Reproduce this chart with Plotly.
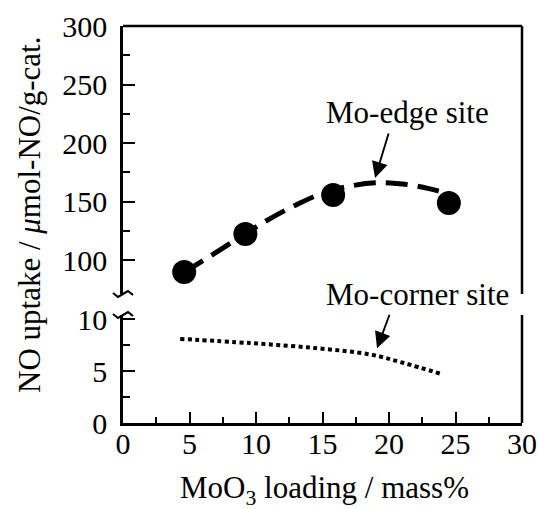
import plotly.graph_objects as go

# ---- data -------------------------------------------------------------
loading = [4.6, 9.2, 15.8, 24.5]            # MoO3 loading / mass%
edge_uptake = [89.7, 122.2, 155.6, 148.7]   # measured NO uptake, umol/g-cat

# smooth trend through the Mo-edge points (dashed)
edge_trend_x = [4.6, 7.0, 9.2, 11.0, 13.0, 15.0, 17.0, 19.0, 21.0, 23.0, 24.2]
edge_trend_y = [89.5, 106.5, 122.5, 135, 147, 157, 163, 166, 165, 161, 157.5]

# Mo-corner site trend (dotted)
corner_x = [4.3, 9.55, 14.6, 18.6, 21.05, 24.0]
corner_y = [8.1, 7.7, 7.2, 6.6, 5.8, 4.7]

x_ticks = [0, 5, 10, 15, 20, 25, 30]
x_minor = [2.5, 7.5, 12.5, 17.5, 22.5, 27.5]
upper_ticks = [100, 150, 200, 250, 300]
upper_minor = [125, 175, 225, 275]
lower_ticks = [0, 5, 10]
lower_minor = [2.5, 7.5]

# ---- geometry (pixels of the 538x509 page) ----------------------------
W, H = 538, 509
PL, PR, PT, PB = 123, 522, 26, 423
UP_BOT, LO_TOP = 294, 315          # break in the y axis


def fx(xp):
    return (xp - PL) / (PR - PL)


def fy(yp):
    return (PB - yp) / (PB - PT)


up_scale = (260 - PT) / 200.0       # px per unit on the upper axis
lo_scale = 10.38                     # px per unit on the lower axis
upper_range = [100 - (UP_BOT - 260) / up_scale, 300]
lower_range = [0, (PB - LO_TOP) / lo_scale]

FONT = "Liberation Serif"
LW = 2.5

fig = go.Figure()

fig.add_trace(go.Scatter(
    x=edge_trend_x, y=edge_trend_y, yaxis="y2", mode="lines",
    line=dict(color="black", width=5, dash="22px,10px", shape="spline"),
    hoverinfo="skip", showlegend=False))

fig.add_trace(go.Scatter(
    x=loading, y=edge_uptake, yaxis="y2", mode="markers",
    marker=dict(color="black", size=24, line=dict(width=0)),
    showlegend=False))

fig.add_trace(go.Scatter(
    x=corner_x, y=corner_y, yaxis="y", mode="lines",
    line=dict(color="black", width=4, dash="4px,3.4px", shape="spline"),
    hoverinfo="skip", showlegend=False))

tickfont = dict(family=FONT, size=30, color="black")

fig.update_layout(
    width=W, height=H,
    margin=dict(l=PL, r=W - PR, t=PT, b=H - PB, autoexpand=False),
    paper_bgcolor="white", plot_bgcolor="white",
    xaxis=dict(
        range=[0, 30], tickvals=x_ticks, ticks="inside", ticklen=11,
        tickwidth=2, tickcolor="black", showline=True, linewidth=LW,
        linecolor="black", showgrid=False, zeroline=False, tickfont=tickfont,
        ticklabelstandoff=-8,
        minor=dict(tickvals=x_minor, ticks="inside",
                   ticklen=6, tickwidth=1.5, tickcolor="black", showgrid=False),
        anchor="y", fixedrange=True),
    yaxis=dict(
        domain=[0, fy(LO_TOP)], range=lower_range, tickvals=lower_ticks,
        ticks="inside", ticklen=12, tickwidth=2, tickcolor="black",
        showline=True, linewidth=LW, linecolor="black", showgrid=False,
        zeroline=False, tickfont=tickfont, ticklabelstandoff=7,
        minor=dict(tickvals=lower_minor, ticks="inside", ticklen=7,
                   tickwidth=1.5, tickcolor="black", showgrid=False),
        anchor="x", fixedrange=True),
    yaxis2=dict(
        domain=[fy(UP_BOT), 1], range=upper_range, tickvals=upper_ticks,
        ticks="inside", ticklen=12, tickwidth=2, tickcolor="black",
        showline=True, linewidth=LW, linecolor="black", showgrid=False,
        zeroline=False, tickfont=tickfont, ticklabelstandoff=7,
        minor=dict(tickvals=upper_minor, ticks="inside", ticklen=7,
                   tickwidth=1.5, tickcolor="black", showgrid=False),
        anchor="x", fixedrange=True),
)

# frame: top edge and broken right edge
line = dict(color="black", width=LW)
fig.add_shape(type="line", xref="paper", yref="paper", x0=0, x1=1, y0=1, y1=1, line=line)
fig.add_shape(type="line", xref="paper", yref="paper", x0=1, x1=1,
              y0=fy(UP_BOT), y1=1, line=line)
fig.add_shape(type="line", xref="paper", yref="paper", x0=1, x1=1,
              y0=0, y1=fy(LO_TOP), line=line)


# zig-zag break marks on the left axis
def zigzag(yc):
    pts = [(PL - 10, yc - 1), (PL - 5, yc + 3), (PL + 5, yc - 3), (PL + 10, yc + 1)]
    return "M " + " L ".join(f"{fx(a):.5f},{fy(b):.5f}" for a, b in pts)


for yc in (UP_BOT, LO_TOP):
    fig.add_shape(type="path", xref="paper", yref="paper", path=zigzag(yc),
                  line=dict(color="black", width=2.2))

labfont = dict(family=FONT, size=31, color="black")

# axis titles
fig.add_annotation(
    text="MoO<sub>3</sub> loading / mass%", xref="paper", yref="paper",
    x=fx(324), y=fy(490), showarrow=False, font=labfont,
    xanchor="center", yanchor="middle")
fig.add_annotation(
    text="NO uptake / <i>μ</i>mol-NO/g-cat.", xref="paper", yref="paper",
    x=fx(29), y=fy(215), showarrow=False, font=labfont, textangle=-90,
    xanchor="center", yanchor="middle")

# site labels and arrows
fig.add_annotation(
    text="Mo-edge site", xref="paper", yref="paper", x=fx(407), y=fy(113),
    showarrow=False, font=labfont, xanchor="center", yanchor="middle")
fig.add_annotation(
    text="", x=18.95, y=170.1, xref="x", yref="y2", showarrow=True,
    ax=14, ay=-46, arrowhead=2, arrowsize=1.7, arrowwidth=1.9,
    arrowcolor="black", standoff=0)

fig.add_annotation(
    text="Mo-corner site", xref="paper", yref="paper", x=fx(417), y=fy(294),
    showarrow=False, font=labfont, xanchor="center", yanchor="middle")
fig.add_annotation(
    text="", x=19.1, y=7.2, xref="x", yref="y", showarrow=True,
    ax=13, ay=-35, arrowhead=2, arrowsize=1.7, arrowwidth=1.9,
    arrowcolor="black", standoff=0)

fig.write_html("out.html")
